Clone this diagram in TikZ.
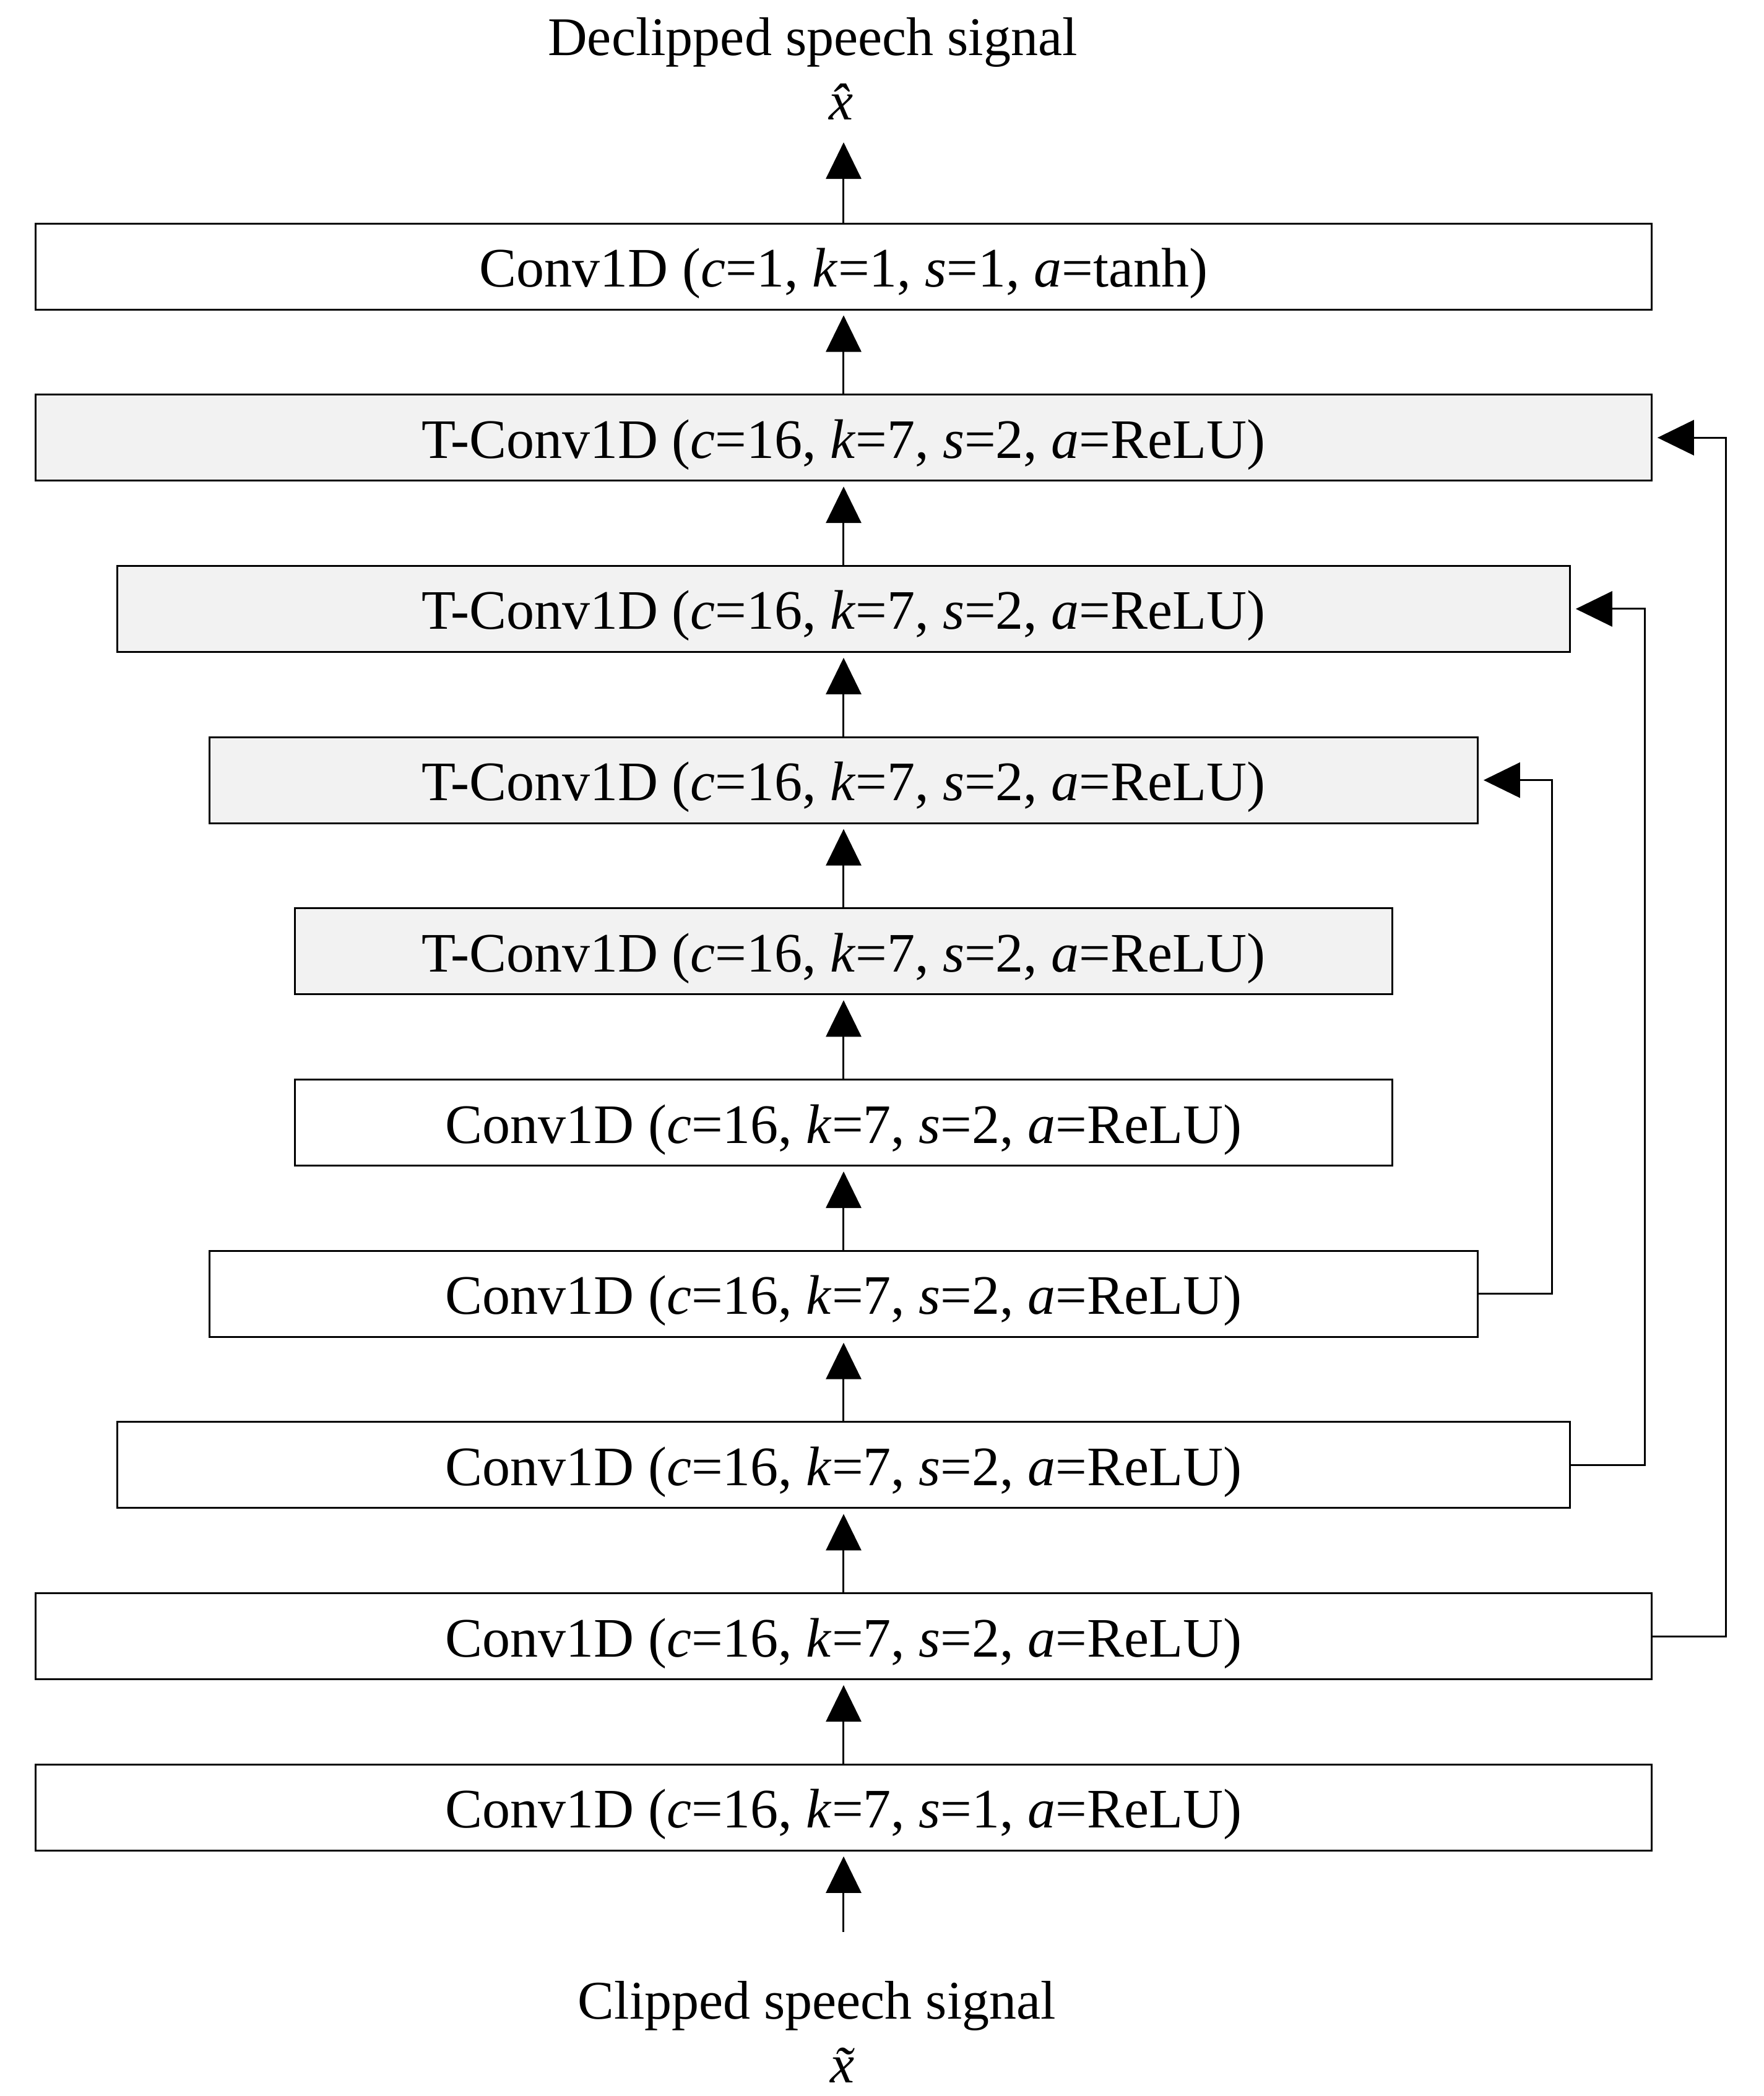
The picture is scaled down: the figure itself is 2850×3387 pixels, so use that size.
\documentclass[tikz,border=0pt]{standalone}
\usepackage{fontspec}
\setmainfont{Liberation Serif}
\usetikzlibrary{arrows.meta}
\tikzset{
  layer/.style={draw=black, line width=0.3pt, minimum height=13.9pt, inner sep=0pt, fill=white,
    text height=7pt, text depth=0.4pt, font=\fontsize{9}{11}\selectfont},
  tlayer/.style={layer, fill=black!5},
  wide/.style={minimum width=261.1pt},
  mid/.style={minimum width=234.7pt},
  narrow/.style={minimum width=204.9pt},
  narrowest/.style={minimum width=177.4pt},
  arr/.style={line width=0.3pt, -{Triangle[length=5.9pt,width=5.7pt]}, shorten >=0.8pt},
  lbl/.style={font=\fontsize{8.8}{11}\selectfont, inner sep=0pt, anchor=base}
}
\newcommand{\prm}[4]{(\textit{c}=#1, \textit{k}=#2, \textit{s}=#3, \textit{a}=#4)}
\begin{document}
\begin{tikzpicture}[x=0.1pt,y=-0.1pt]
\useasboundingbox (0,0) rectangle (2850,3387);
\node[layer,wide]       (b0) at (1363,430.5)  {Conv1D \prm{1}{1}{1}{tanh}};
\node[tlayer,wide]      (b1) at (1363,707.2)  {T-Conv1D \prm{16}{7}{2}{ReLU}};
\node[tlayer,mid]       (b2) at (1363,983.9)  {T-Conv1D \prm{16}{7}{2}{ReLU}};
\node[tlayer,narrow]    (b3) at (1363,1260.6) {T-Conv1D \prm{16}{7}{2}{ReLU}};
\node[tlayer,narrowest] (b4) at (1363,1537.3) {T-Conv1D \prm{16}{7}{2}{ReLU}};
\node[layer,narrowest]  (b5) at (1363,1814.0) {Conv1D \prm{16}{7}{2}{ReLU}};
\node[layer,narrow]     (b6) at (1363,2090.7) {Conv1D \prm{16}{7}{2}{ReLU}};
\node[layer,mid]        (b7) at (1363,2367.4) {Conv1D \prm{16}{7}{2}{ReLU}};
\node[layer,wide]       (b8) at (1363,2644.1) {Conv1D \prm{16}{7}{2}{ReLU}};
\node[layer,wide]       (b9) at (1363,2920.8) {Conv1D \prm{16}{7}{1}{ReLU}};

\node[lbl] (outt) at (1313,89) {Declipped speech signal};
\node[lbl] (outx) at (1375,193) {\textit{\^x}};
\node[lbl] (inpt) at (1320,3262) {Clipped speech signal};
\node[lbl] (inpx) at (1378,3365) {\textit{\~x}};

\coordinate (top) at (1363,222);
\coordinate (bot) at (1363,3122);

\draw[arr] (b0.north) -- (top);
\draw[arr] (b1.north) -- (b0.south);
\draw[arr] (b2.north) -- (b1.south);
\draw[arr] (b3.north) -- (b2.south);
\draw[arr] (b4.north) -- (b3.south);
\draw[arr] (b5.north) -- (b4.south);
\draw[arr] (b6.north) -- (b5.south);
\draw[arr] (b7.north) -- (b6.south);
\draw[arr] (b8.north) -- (b7.south);
\draw[arr] (b9.north) -- (b8.south);
\draw[arr] (bot) -- (b9.south);

\draw[arr] (b6.east) -- ++(119,0) |- (b3.east);
\draw[arr] (b7.east) -- ++(120,0) |- (b2.east);
\draw[arr] (b8.east) -- ++(119,0) |- (b1.east);
\end{tikzpicture}
\end{document}
